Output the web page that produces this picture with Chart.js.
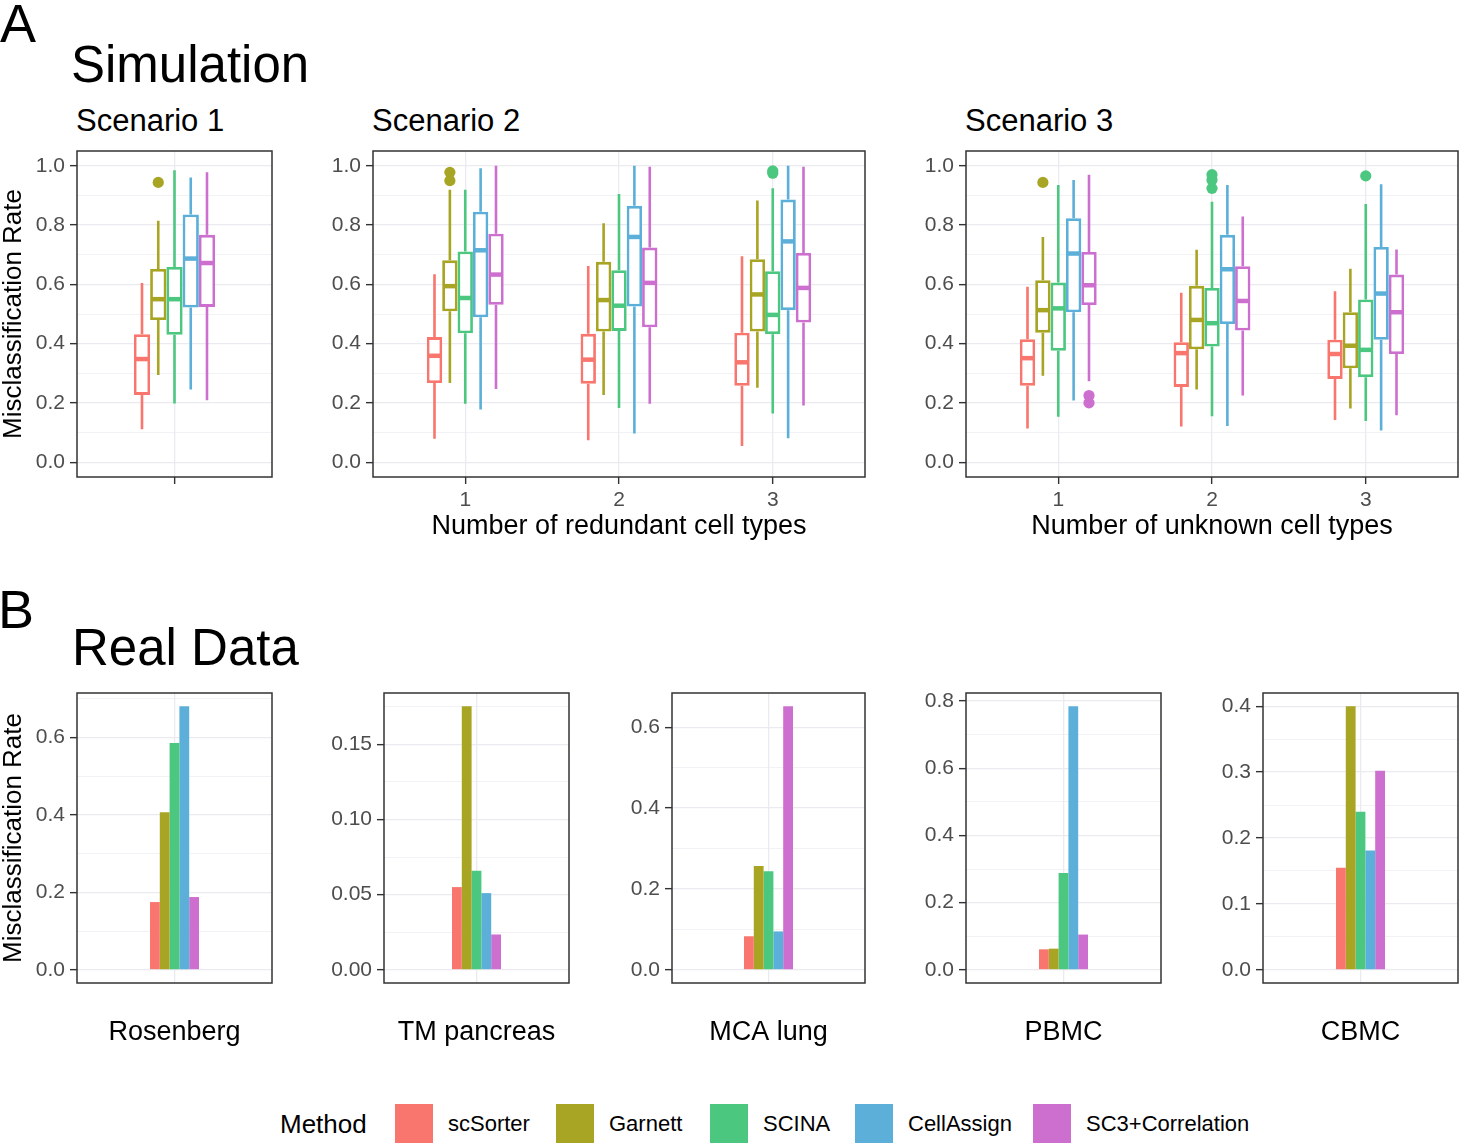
<!DOCTYPE html>
<html>
<head>
<meta charset="utf-8">
<script src="https://cdn.jsdelivr.net/npm/chart.js@4.4.1/dist/chart.umd.min.js"></script>
<style>
  body { margin: 0; background: #fff; font-family: "Liberation Sans", Arial, Helvetica, sans-serif; }
  #fig { position: relative; width: 1459px; height: 1143px; overflow: hidden; background: #fff; }
  .txt { position: absolute; color: #000; white-space: nowrap; line-height: 1; }
  .sw { position: absolute; width: 38px; height: 39px; }
  canvas { position: absolute; }
</style>
</head>
<body>
<div id="fig"></div>
<script>
const methods = ["scSorter", "Garnett", "SCINA", "CellAssign", "SC3+Correlation"];
const methodColors = ["#F8766D", "#A8A424", "#4CC77F", "#5BAFD9", "#CC6FCF"];

// boxplot stats per method, one [low, q1, median, q3, high] per group
const s1Groups = [""];
const s1Stats = [
  [[0.111, 0.227, 0.348, 0.432, 0.605]],
  [[0.294, 0.480, 0.550, 0.652, 0.815]],
  [[0.198, 0.430, 0.550, 0.659, 0.985]],
  [[0.245, 0.522, 0.687, 0.836, 0.961]],
  [[0.209, 0.524, 0.672, 0.767, 0.978]]
];
const s1Outliers = [[[]], [[0.944]], [[]], [[]], [[]]];

const s2Groups = ["1", "2", "3"];
const s2Stats = [
  [[0.079, 0.267, 0.359, 0.422, 0.634], [0.074, 0.265, 0.346, 0.433, 0.662], [0.055, 0.258, 0.337, 0.437, 0.695]],
  [[0.267, 0.509, 0.594, 0.681, 0.919], [0.227, 0.441, 0.547, 0.676, 0.806], [0.251, 0.441, 0.566, 0.685, 0.883]],
  [[0.197, 0.435, 0.554, 0.711, 0.919], [0.183, 0.443, 0.528, 0.648, 0.905], [0.164, 0.432, 0.497, 0.644, 0.924]],
  [[0.178, 0.489, 0.715, 0.845, 0.992], [0.097, 0.525, 0.760, 0.865, 1.000], [0.081, 0.513, 0.745, 0.886, 1.000]],
  [[0.247, 0.531, 0.633, 0.771, 1.000], [0.197, 0.455, 0.605, 0.724, 0.997], [0.191, 0.471, 0.588, 0.706, 0.997]]
];
const s2Outliers = [
  [[], [], []],
  [[0.950, 0.978], [], []],
  [[], [], [0.975, 0.983]],
  [[], [], []],
  [[], [], []]
];

const s3Groups = ["1", "2", "3"];
const s3Stats = [
  [[0.114, 0.258, 0.351, 0.415, 0.592], [0.120, 0.254, 0.368, 0.405, 0.572], [0.142, 0.281, 0.365, 0.413, 0.577]],
  [[0.292, 0.437, 0.513, 0.614, 0.760], [0.245, 0.381, 0.480, 0.595, 0.717], [0.181, 0.317, 0.393, 0.506, 0.653]],
  [[0.153, 0.376, 0.519, 0.606, 0.935], [0.155, 0.390, 0.469, 0.588, 0.879], [0.139, 0.287, 0.379, 0.549, 0.871]],
  [[0.208, 0.506, 0.704, 0.823, 0.952], [0.122, 0.466, 0.651, 0.767, 0.935], [0.107, 0.413, 0.569, 0.726, 0.938]],
  [[0.273, 0.530, 0.597, 0.709, 0.970], [0.225, 0.444, 0.544, 0.661, 0.829], [0.158, 0.365, 0.506, 0.633, 0.718]]
];
const s3Outliers = [
  [[], [], []],
  [[0.944], [], []],
  [[], [0.924, 0.952, 0.970], [0.966]],
  [[], [], []],
  [[0.200, 0.225], [], []]
];

const simTicks = [0, 0.2, 0.4, 0.6, 0.8, 1.0];
const simTickLabels = ["0.0", "0.2", "0.4", "0.6", "0.8", "1.0"];

// real data: misclassification rate per method, one value per data set
const realSets = ["Rosenberg", "TM pancreas", "MCA lung", "PBMC", "CBMC"];
const scSorterRate = [0.175, 0.055, 0.083, 0.061, 0.155];
const garnettRate = [0.407, 0.1753, 0.257, 0.063, 0.400];
const scinaRate = [0.586, 0.0658, 0.244, 0.288, 0.240];
const cellAssignRate = [0.681, 0.051, 0.095, 0.785, 0.181];
const sc3Rate = [0.188, 0.0235, 0.652, 0.105, 0.302];
const realRates = [scSorterRate, garnettRate, scinaRate, cellAssignRate, sc3Rate];
const realTicks = [
  [0, 0.2, 0.4, 0.6],
  [0, 0.05, 0.10, 0.15],
  [0, 0.2, 0.4, 0.6],
  [0, 0.2, 0.4, 0.6, 0.8],
  [0, 0.1, 0.2, 0.3, 0.4]
];
const realTickLabels = [
  ["0.0", "0.2", "0.4", "0.6"],
  ["0.00", "0.05", "0.10", "0.15"],
  ["0.0", "0.2", "0.4", "0.6"],
  ["0.0", "0.2", "0.4", "0.6", "0.8"],
  ["0.0", "0.1", "0.2", "0.3", "0.4"]
];

// ---- layout ----
const FONT = '"Liberation Sans", Arial, Helvetica, sans-serif';
Chart.defaults.font.family = FONT;
const gridColor = "#EAEAF0";
const tickColor = "#4D4D4D";
const padTop = 22, padRight = 10, xAxisH = 64;
const fig = document.getElementById("fig");

function addText(str, left, baseline, size) {
  const d = document.createElement("div");
  d.className = "txt";
  d.textContent = str;
  d.style.left = left + "px";
  d.style.top = (baseline - 0.8465 * size) + "px";
  d.style.fontSize = size + "px";
  fig.appendChild(d);
  return d;
}

function buildYTicks(majors, labels, min, max) {
  const step = majors[1] - majors[0];
  const out = [];
  majors.forEach((v, i) => {
    out.push({ value: v, major: true, lbl: labels[i] });
    const m = v + step / 2;
    if (m < max) out.push({ value: m, major: false, lbl: "" });
  });
  return out;
}

function yScale(min, max, majors, labels, yW, withTitle) {
  return {
    type: "linear", min: min, max: max,
    afterBuildTicks: s => { s.ticks = buildYTicks(majors, labels, min, max); },
    afterFit: s => { s.width = yW; },
    ticks: {
      autoSkip: false, padding: 5, color: tickColor, font: { size: 21 },
      callback: (v, i, t) => t[i].lbl
    },
    grid: {
      color: gridColor,
      lineWidth: c => (c.tick && c.tick.major ? 1.3 : 0.6),
      tickLength: 7, tickWidth: 1.4,
      tickColor: c => (c.tick && c.tick.major ? "#333" : "rgba(0,0,0,0)")
    },
    border: { display: false },
    title: {
      display: withTitle, text: "Misclassification Rate", color: "#000",
      font: { size: 26, lineHeight: 1.05 }, padding: 0
    }
  };
}

const framePlugin = {
  id: "frame",
  afterDraw(chart) {
    const a = chart.chartArea, ctx = chart.ctx;
    ctx.save();
    ctx.strokeStyle = "#333";
    ctx.lineWidth = 1.5;
    ctx.strokeRect(a.left, a.top, a.right - a.left, a.bottom - a.top);
    ctx.restore();
  }
};

const boxPlugin = {
  id: "boxes",
  beforeDatasetsDraw(chart) {
    const y = chart.scales.y, ctx = chart.ctx;
    chart.data.datasets.forEach((ds, i) => {
      chart.getDatasetMeta(i).data.forEach((el, j) => {
        const st = ds.stats[j];
        ctx.save();
        ctx.strokeStyle = ds.borderColor;
        ctx.lineWidth = 2.6;
        ctx.beginPath();
        ctx.moveTo(el.x, y.getPixelForValue(st[0]));
        ctx.lineTo(el.x, y.getPixelForValue(st[1]));
        ctx.moveTo(el.x, y.getPixelForValue(st[3]));
        ctx.lineTo(el.x, y.getPixelForValue(st[4]));
        ctx.stroke();
        ctx.restore();
      });
    });
  },
  afterDatasetsDraw(chart) {
    const y = chart.scales.y, ctx = chart.ctx;
    chart.data.datasets.forEach((ds, i) => {
      chart.getDatasetMeta(i).data.forEach((el, j) => {
        const st = ds.stats[j];
        const py = y.getPixelForValue(st[2]);
        ctx.save();
        ctx.strokeStyle = ds.borderColor;
        ctx.fillStyle = ds.borderColor;
        ctx.lineWidth = 4.5;
        ctx.beginPath();
        ctx.moveTo(el.x - el.width / 2 + 1, py);
        ctx.lineTo(el.x + el.width / 2 - 1, py);
        ctx.stroke();
        ds.outliers[j].forEach(o => {
          ctx.beginPath();
          ctx.arc(el.x, y.getPixelForValue(o), 5.6, 0, Math.PI * 2);
          ctx.fill();
        });
        ctx.restore();
      });
    });
  }
};

function makeCanvas(left, top, w, h) {
  const c = document.createElement("canvas");
  c.width = w; c.height = h;
  c.style.left = left + "px"; c.style.top = top + "px";
  c.style.width = w + "px"; c.style.height = h + "px";
  fig.appendChild(c);
  return c;
}

function boxPanel(panel, groups, stats, outliers, xTitle) {
  const c = makeCanvas(panel.left - panel.yW, panel.top - padTop,
    panel.yW + panel.width + padRight, padTop + panel.height + xAxisH);
  const n = groups.length;
  // ggplot discrete range is 0.4 .. n+0.6; boxes take 0.1 unit each
  const unitPx = panel.width / (n + 0.2);
  const gapPx = n > 1 ? unitPx : panel.width;
  const catPct = 0.5 * unitPx / gapPx;
  const datasets = methods.map((m, k) => ({
    type: "bar", label: m,
    data: stats[k].map((st, g) => ({ x: g + 1, y: [st[1], st[3]] })),
    stats: stats[k], outliers: outliers[k],
    backgroundColor: "#fff", borderColor: methodColors[k], borderWidth: 2.8,
    borderSkipped: false, barPercentage: 1, categoryPercentage: catPct
  }));
  new Chart(c, {
    type: "bar",
    data: { datasets: datasets },
    options: {
      responsive: false, animation: false,
      layout: { padding: { top: padTop, right: padRight, left: 0, bottom: 0 } },
      plugins: { legend: { display: false }, tooltip: { enabled: false } },
      scales: {
        x: {
          type: "linear", min: 0.4, max: n + 0.6, offset: false,
          afterBuildTicks: s => { s.ticks = groups.map((g, i) => ({ value: i + 1, lbl: g })); },
          afterFit: s => { s.height = xAxisH; },
          ticks: { autoSkip: false, maxRotation: 0, padding: 4, color: tickColor, font: { size: 21 },
            callback: (v, i, t) => t[i].lbl },
          grid: { offset: false, color: gridColor, lineWidth: 1.3, tickLength: 7, tickWidth: 1.4, tickColor: "#333" },
          border: { display: false },
          title: { display: !!xTitle, text: xTitle || "", color: "#000",
            font: { size: 27, lineHeight: 1.05 }, padding: 0 }
        },
        y: yScale(-0.05, 1.05, simTicks, simTickLabels, panel.yW, !!panel.yTitle)
      }
    },
    plugins: [boxPlugin, framePlugin]
  });
}

function barPanel(panel, idx) {
  const c = makeCanvas(panel.left - panel.yW, panel.top - padTop,
    panel.yW + panel.width + padRight, padTop + panel.height + xAxisH);
  const vals = realRates.map(r => r[idx]);
  const hi = Math.max.apply(null, vals);
  const min = -0.05 * hi, max = hi * 1.05;
  const catPct = 49 / panel.width;
  new Chart(c, {
    type: "bar",
    data: {
      labels: [""],
      datasets: methods.map((m, k) => ({
        label: m, data: [realRates[k][idx]], backgroundColor: methodColors[k],
        borderWidth: 0, barPercentage: 1, categoryPercentage: catPct
      }))
    },
    options: {
      responsive: false, animation: false,
      layout: { padding: { top: padTop, right: padRight, left: 0, bottom: 0 } },
      plugins: { legend: { display: false }, tooltip: { enabled: false } },
      scales: {
        x: {
          type: "category", offset: true,
          afterFit: s => { s.height = xAxisH; },
          ticks: { display: true, font: { size: 21 }, color: tickColor },
          grid: { offset: false, color: gridColor, lineWidth: 1.3, tickLength: 7, tickColor: "rgba(0,0,0,0)" },
          border: { display: false },
          title: { display: true, text: realSets[idx], color: "#000",
            font: { size: 27, lineHeight: 1.05 }, padding: 0 }
        },
        y: yScale(min, max, realTicks[idx], realTickLabels[idx], panel.yW, !!panel.yTitle)
      }
    },
    plugins: [framePlugin]
  });
}

// ---- headings ----
addText("A", 0, 42, 54);
addText("Simulation", 71, 82, 51);
addText("Scenario 1", 76, 131, 31);
addText("Scenario 2", 372, 131, 31);
addText("Scenario 3", 965, 131, 31);
addText("B", -2, 628, 54);
addText("Real Data", 72, 665, 51);

// ---- panels ----
boxPanel({ left: 77, top: 151, width: 195, height: 326, yW: 77, yTitle: true }, s1Groups, s1Stats, s1Outliers, "");
boxPanel({ left: 373, top: 151, width: 492, height: 326, yW: 70 }, s2Groups, s2Stats, s2Outliers, "Number of redundant cell types");
boxPanel({ left: 966, top: 151, width: 492, height: 326, yW: 70 }, s3Groups, s3Stats, s3Outliers, "Number of unknown cell types");

const realPanels = [
  { left: 77, width: 195, yW: 77, yTitle: true },
  { left: 384, width: 185, yW: 70 },
  { left: 672, width: 193, yW: 70 },
  { left: 966, width: 195, yW: 70 },
  { left: 1263, width: 195, yW: 70 }
];
realPanels.forEach((p, i) => {
  p.top = 693; p.height = 290;
  barPanel(p, i);
});

// ---- legend ----
addText("Method", 280, 1133, 26);
const swatchX = [395, 556, 710, 855, 1033];
methods.forEach((m, k) => {
  const s = document.createElement("div");
  s.className = "sw";
  s.style.left = swatchX[k] + "px";
  s.style.top = "1104px";
  s.style.background = methodColors[k];
  fig.appendChild(s);
  addText(m, swatchX[k] + 53, 1132, 22);
});
</script>
</body>
</html>
